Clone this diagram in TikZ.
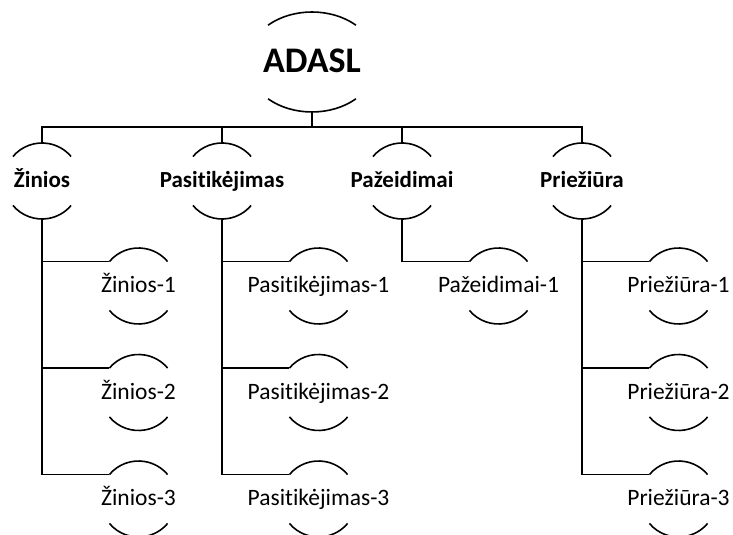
\documentclass[tikz,border=0pt]{standalone}
\usepackage{fontspec}
\setmainfont{Carlito}[Ligatures = NoCommon]
\usetikzlibrary{shapes.geometric}
\tikzstyle{arcLine}=[line width = 1.6pt]
\tikzstyle{rootArc}=[shape = ellipse, minimum width = 130pt, minimum height = 100pt, inner sep = 0pt, outer sep = 0pt,
  font = \bfseries\fontsize{36}{40}\selectfont, text height = 22pt, text depth = 0pt,
  append after command = {\pgfextra{
    \draw[arcLine] (\tikzlastnode.140) arc[start angle = 132.5, end angle = 47.5, x radius = 65pt, y radius = 50pt];
    \draw[arcLine] (\tikzlastnode.220) arc[start angle = 227.5, end angle = 312.5, x radius = 65pt, y radius = 50pt];}}]
\tikzstyle{labeledArc}=[shape = circle, minimum size = 76pt, inner sep = 0pt, outer sep = 0pt,
  text height = 14pt, text depth = 0pt,
  append after command = {\pgfextra{
    \draw[arcLine] (\tikzlastnode.140) arc[start angle = 140, end angle = 40, radius = 38pt];
    \draw[arcLine] (\tikzlastnode.220) arc[start angle = 220, end angle = 320, radius = 38pt];}}]
\tikzstyle{headArc}=[labeledArc, font = \bfseries\fontsize{23}{27}\selectfont]
\tikzstyle{leafArc}=[labeledArc, font = \fontsize{23.5}{27}\selectfont]

\begin{document}
\begin{tikzpicture}[x = 1pt, y = 1pt]
\tikzstyle{EdgeStyle}=[line width = 1.8pt]
\useasboundingbox (0,0) rectangle (733,535);
\node[rootArc] (v0) at (312,473) {\makebox[0pt]{ADASL}};
\node[headArc] (v1) at (42,354) {\makebox[0pt]{Žinios}};
\node[headArc] (v2) at (222,354) {\makebox[0pt]{Pasitikėjimas}};
\node[headArc] (v3) at (402,354) {\makebox[0pt]{Pažeidimai}};
\node[headArc] (v4) at (582,354) {\makebox[0pt]{Priežiūra}};
\node[leafArc] (v5) at (138.5,249) {\makebox[0pt]{Žinios-1}};
\node[leafArc] (v6) at (138.5,142.5) {\makebox[0pt]{Žinios-2}};
\node[leafArc] (v7) at (138.5,36) {\makebox[0pt]{Žinios-3}};
\node[leafArc] (v8) at (318.5,249) {\makebox[0pt]{Pasitikėjimas-1}};
\node[leafArc] (v9) at (318.5,142.5) {\makebox[0pt]{Pasitikėjimas-2}};
\node[leafArc] (v10) at (318.5,36) {\makebox[0pt]{Pasitikėjimas-3}};
\node[leafArc] (v11) at (498.5,249) {\makebox[0pt]{Pažeidimai-1}};
\node[leafArc] (v12) at (678.5,249) {\makebox[0pt]{Priežiūra-1}};
\node[leafArc] (v13) at (678.5,142.5) {\makebox[0pt]{Priežiūra-2}};
\node[leafArc] (v14) at (678.5,36) {\makebox[0pt]{Priežiūra-3}};
\draw[EdgeStyle] (v0.south) -- ++(0,-15) -| (v1.north);
\draw[EdgeStyle] (v0.south) -- ++(0,-15) -| (v2.north);
\draw[EdgeStyle] (v0.south) -- ++(0,-15) -| (v3.north);
\draw[EdgeStyle] (v0.south) -- ++(0,-15) -| (v4.north);
\draw[EdgeStyle] (v1.south) |- (v5.140);
\draw[EdgeStyle] (v1.south) |- (v6.140);
\draw[EdgeStyle] (v1.south) |- (v7.140);
\draw[EdgeStyle] (v2.south) |- (v8.140);
\draw[EdgeStyle] (v2.south) |- (v9.140);
\draw[EdgeStyle] (v2.south) |- (v10.140);
\draw[EdgeStyle] (v3.south) |- (v11.140);
\draw[EdgeStyle] (v4.south) |- (v12.140);
\draw[EdgeStyle] (v4.south) |- (v13.140);
\draw[EdgeStyle] (v4.south) |- (v14.140);
\end{tikzpicture}
\end{document}
